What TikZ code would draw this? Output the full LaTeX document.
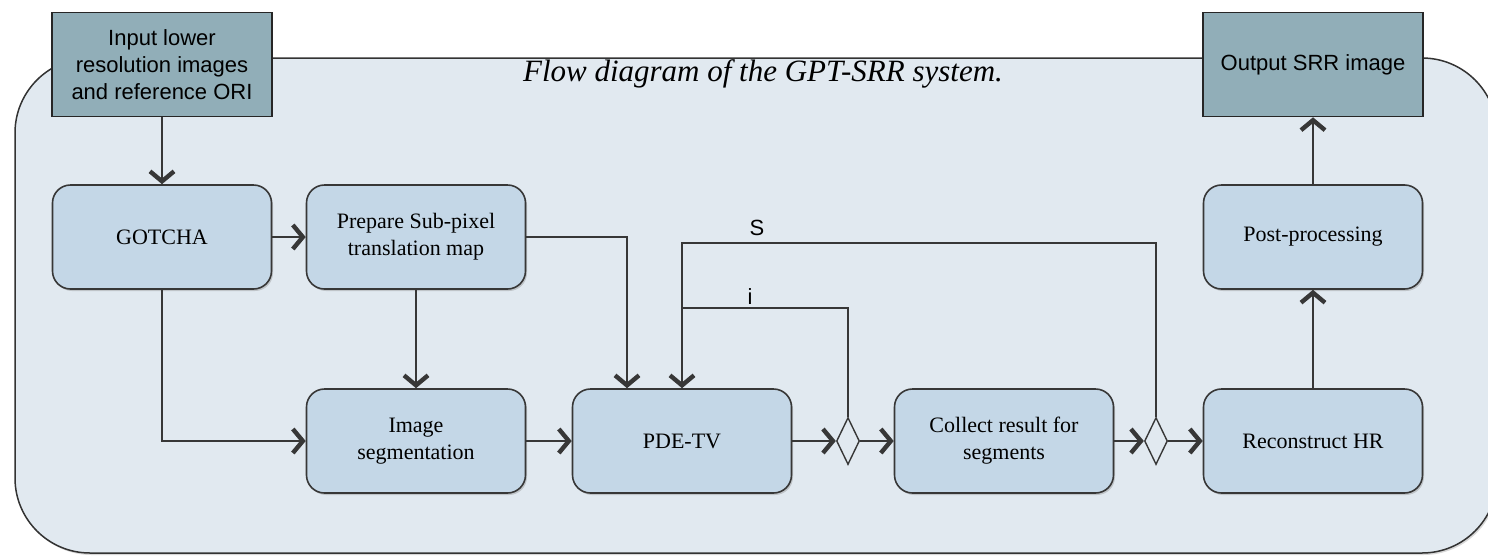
\documentclass[tikz,border=0pt]{standalone}
\usepackage{fontspec}
\setmainfont{Liberation Serif}
\newfontfamily\arialf{Liberation Sans}
\usetikzlibrary{arrows.meta,shapes.geometric,shadows,calc}
\definecolor{contfill}{RGB}{225,233,240}
\definecolor{boxfill}{RGB}{196,215,231}
\definecolor{iofill}{RGB}{145,174,184}
\definecolor{edgec}{RGB}{55,55,55}
\begin{document}
\begin{tikzpicture}[x=1pt,y=-1pt,
 proc/.style={draw=edgec, line width=1.6pt, fill=boxfill, rounded corners=18pt,
   minimum width=219pt, minimum height=104pt, align=center,
   font=\fontsize{22}{27}\selectfont,
   drop shadow={shadow xshift=1.5pt,shadow yshift=-2pt,opacity=0.35}},
 io/.style={draw=black!85, line width=1.6pt, fill=iofill, minimum width=220pt,
   minimum height=104pt, align=center, font=\arialf\fontsize{22}{27}\selectfont},
 dia/.style={diamond, draw=edgec, line width=1.4pt, fill=contfill,
   minimum width=23pt, minimum height=47pt, inner sep=0pt},
 line/.style={draw=edgec, line width=1.8pt},
 arr/.style={line, -{Straight Barb[length=10pt,width=24pt,line width=4.4pt]}},
 lbl/.style={font=\arialf\fontsize{22}{26}\selectfont, inner sep=0pt},
]
\clip (0,0) rectangle (1488,555);
\fill[white] (0,0) rectangle (1488,555);
% container
\draw[fill=contfill, draw=black!80, line width=1.5pt, rounded corners=75pt,
  drop shadow={shadow xshift=1.5pt,shadow yshift=-2pt,opacity=0.3}]
  (15,58) rectangle (1497,553);
\node[font=\itshape\fontsize{31}{36}\selectfont] (title) at (763,74)
  {Flow diagram of the GPT-SRR system.};
% nodes
\node[io] (in) at (162,64.5) {Input lower\\resolution images\\and reference ORI};
\node[io] (out) at (1313,64.5) {Output SRR image};
\node[proc] (got) at (162,237) {GOTCHA};
\node[proc] (prep) at (416,237) {Prepare Sub-pixel\\translation map};
\node[proc] (seg) at (416,441) {Image\\segmentation};
\node[proc] (pde) at (682,441) {PDE-TV};
\node[dia] (d1) at (848,441) {};
\node[proc] (col) at (1004,441) {Collect result for\\segments};
\node[dia] (d2) at (1156,441) {};
\node[proc] (rec) at (1313,441) {Reconstruct HR};
\node[proc] (post) at (1313,237) {Post-processing};
\coordinate (sTop) at (682,243);
\coordinate (iTop) at (682,308);
\node[lbl] (sl) at (757,228) {S};
\node[lbl] (il) at (750,297) {i};
% connectors
\draw[arr] (in) -- (got);
\draw[arr] (got) -- (prep);
\draw[arr] (got.south) |- (seg);
\draw[arr] (prep) -- (seg);
\draw[arr] (prep.east) -| ([xshift=-55pt]pde.north);
\draw[arr] (seg) -- (pde);
\draw[arr] (pde) -- (d1);
\draw[arr] (d1) -- (col);
\draw[arr] (col) -- (d2);
\draw[arr] (d2) -- (rec);
\draw[arr] (rec) -- (post);
\draw[arr] (post) -- (out);
\draw[arr] (d2.north) |- (sTop) -- (pde.north);
\draw[line] (d1.north) |- (iTop);
\end{tikzpicture}
\end{document}
